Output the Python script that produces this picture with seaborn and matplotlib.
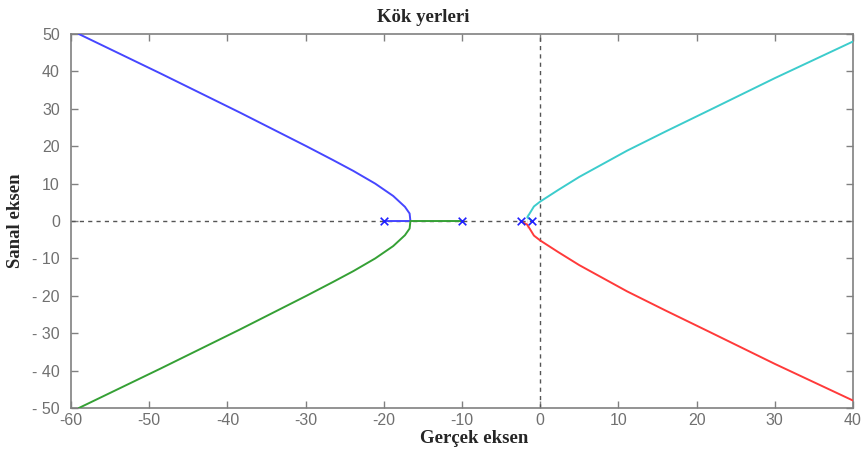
import matplotlib
matplotlib.use("Agg")
import matplotlib.pyplot as plt
import seaborn as sns
import pandas as pd

# ==========================================
# DATA
# ==========================================
poles_re = [-20.0, -10.0, -2.5, -1.0]
poles_im = [0.0, 0.0, 0.0, 0.0]

blue_re = [-20.0, -16.6, -16.7, -17.3, -18.8, -21.1, -23.9, -26.5, -29.9, -38.4, -48.6, -59.0]
blue_im = [0.0, 0.0, 2.0, 3.8, 6.7, 10.0, 13.4, 16.3, 20.0, 29.0, 39.5, 50.0]

green_re = [-10.0, -16.6, -16.7, -17.3, -18.8, -21.1, -23.9, -26.5, -29.9, -38.4, -48.6, -59.0]
green_im = [0.0, 0.0, -2.0, -3.8, -6.7, -10.0, -13.4, -16.3, -20.0, -29.0, -39.5, -50.0]

red_re = [-2.5, -1.65, -1.65, -0.8, 0.0, 2.3, 5.0, 11.1, 16.0, 21.7, 30.0, 40.0]
red_im = [0.0, 0.0, -2.0, -3.9, -5.2, -8.3, -11.8, -18.8, -23.9, -29.7, -38.2, -48.0]

cyan_re = [-1.0, -1.65, -1.65, -0.8, 0.0, 2.3, 5.0, 11.1, 16.0, 21.7, 30.0, 40.0]
cyan_im = [0.0, 0.0, 2.0, 3.9, 5.2, 8.3, 11.8, 18.8, 23.9, 29.7, 38.2, 48.0]

x_ticks = [-60, -50, -40, -30, -20, -10, 0, 10, 20, 30, 40]
y_ticks = [-50, -40, -30, -20, -10, 0, 10, 20, 30, 40, 50]
y_tick_labels = ["- 50", "- 40", "- 30", "- 20", "- 10", "0", "10", "20", "30", "40", "50"]

branches = [
    (blue_re, blue_im, "#4646ff"),
    (green_re, green_im, "#35a035"),
    (red_re, red_im, "#ff3a3a"),
    (cyan_re, cyan_im, "#3ccccc"),
]

# ==========================================
# PLOT
# ==========================================
sns.set_style("ticks")
plt.rcParams["axes.unicode_minus"] = False

fig = plt.figure(figsize=(8.61, 4.5), dpi=100)
ax = fig.add_axes([0.0825, 0.0933, 0.9082, 0.8311])

ax.axhline(0, color="#555555", lw=1.0, ls=(0, (3, 3)), zorder=1)
ax.axvline(0, color="#555555", lw=1.0, ls=(0, (3, 3)), zorder=1)

for re, im, col in branches:
    df = pd.DataFrame({"re": re, "im": im})
    sns.lineplot(data=df, x="re", y="im", sort=False, color=col, lw=1.4,
                 ax=ax, zorder=3)

poles = pd.DataFrame({"re": poles_re, "im": poles_im})
sns.scatterplot(data=poles, x="re", y="im", marker="x", color="#2020ff",
                s=30, linewidth=1.2, ax=ax, zorder=4)

ax.set_xlim(-60, 40)
ax.set_ylim(-50, 50)
ax.set_xticks(x_ticks)
ax.set_xticklabels([str(t) for t in x_ticks])
ax.set_yticks(y_ticks)
ax.set_yticklabels(y_tick_labels)

ax.tick_params(direction="in", top=True, right=True, length=5, width=1,
               color="#808080", labelcolor="#707070", labelsize=11.5)
ax.tick_params(axis="y", pad=8)
for lab in ax.get_xticklabels() + ax.get_yticklabels():
    lab.set_family("Liberation Sans")
for sp in ax.spines.values():
    sp.set_color("#808080")
    sp.set_linewidth(1.2)

ax.set_title("Kök yerleri", family="Liberation Serif", fontweight="bold",
             fontsize=13.5, pad=9, x=0.45)
ax.set_xlabel("Gerçek eksen", family="Liberation Serif", fontweight="bold",
              fontsize=13.5, labelpad=1)
ax.xaxis.set_label_coords(0.515, -0.06)
ax.set_ylabel("Sanal eksen", family="Liberation Serif", fontweight="bold",
              fontsize=13.5, labelpad=6)

fig.savefig("out.png", dpi=100)
